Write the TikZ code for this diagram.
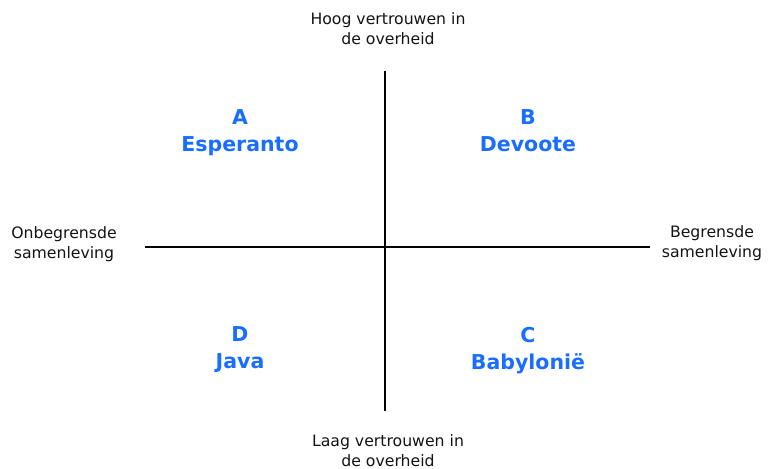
\documentclass[tikz,border=0pt]{standalone}
\usepackage{fontspec}
\setmainfont{DejaVu Sans}
\definecolor{qblue}{HTML}{1A6EFF}
\begin{document}
\begin{tikzpicture}[x=1pt,y=-1pt,
  axis/.style={line width=2pt,black},
  lbl/.style={align=center,inner sep=0pt,text depth=0pt,font=\fontsize{15.7}{20.5}\selectfont,text=black!92},
  quad/.style={align=center,inner sep=0pt,text depth=0pt,font=\bfseries\fontsize{20.5}{27}\selectfont,text=qblue}]
\useasboundingbox[fill=white] (0,0) rectangle (772,469);
\coordinate (top) at (385,71);
\coordinate (bot) at (385,411);
\coordinate (lft) at (145,247);
\coordinate (rgt) at (650,247);
\draw[axis] (top) -- (bot);
\draw[axis] (lft) -- (rgt);
\node[lbl] (ht) at (388,28.5) {Hoog vertrouwen in\\de overheid};
\node[lbl] (lt) at (388,450.5) {Laag vertrouwen in\\de overheid};
\node[lbl] (ol) at (64,242.5) {Onbegrensde\\samenleving};
\node[lbl] (br) at (712,241.5) {Begrensde\\samenleving};
\node[quad] (qa) at (240,130.5) {A\\Esperanto};
\node[quad] (qb) at (528,130.5) {B\\Devoote};
\node[quad] (qd) at (240,348) {D\\Java};
\node[quad] (qc) at (528,348) {C\\Babylonië};
\end{tikzpicture}
\end{document}
